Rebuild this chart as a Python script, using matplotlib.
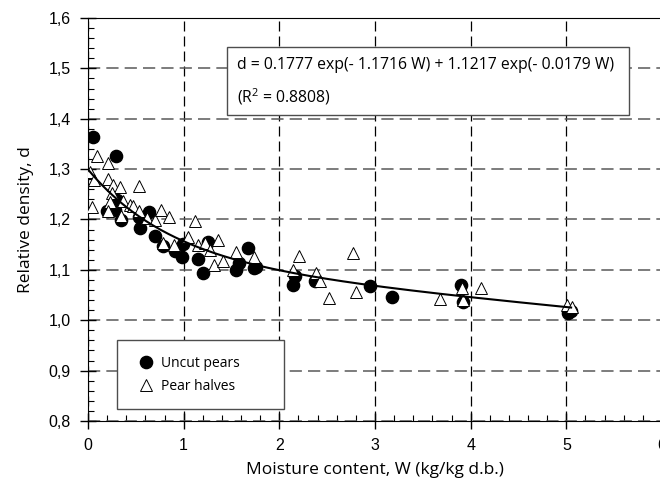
import numpy as np
import matplotlib
matplotlib.use("Agg")
import matplotlib.pyplot as plt
from matplotlib.patches import Rectangle
from matplotlib.ticker import MultipleLocator, FuncFormatter

plt.rcParams['font.family'] = ['Open Sans', 'DejaVu Sans']

# Uncut pears (filled circles)
uncutW = [0.05, 0.29, 0.30, 0.28, 0.195, 0.345, 0.53, 0.64, 0.54, 0.70,
          0.78, 0.91, 0.996, 0.98, 1.146, 1.257, 1.205, 1.55, 1.58, 1.67,
          1.73, 1.755, 2.145, 2.16, 2.37, 2.95, 3.18, 3.90, 3.915, 5.02, 5.05]
uncutD = [1.364, 1.326, 1.239, 1.218, 1.216, 1.199, 1.205, 1.214, 1.183, 1.168,
          1.148, 1.138, 1.152, 1.126, 1.122, 1.156, 1.093, 1.100, 1.113, 1.144,
          1.103, 1.106, 1.070, 1.087, 1.077, 1.067, 1.047, 1.070, 1.037, 1.014, 1.019]

# Pear halves (open triangles)
halvesW = [0.02, 0.09, 0.205, 0.045, 0.063, 0.21, 0.265, 0.33, 0.53, 0.25,
           0.23, 0.37, 0.44, 0.47, 0.53, 0.21, 0.35, 0.62, 0.70, 0.76,
           0.85, 1.12, 1.05, 1.36, 0.78, 0.90, 1.146, 1.22, 1.275, 1.317,
           1.41, 1.55, 1.73, 2.145, 2.21, 2.38, 2.42, 2.52, 2.77, 2.80,
           3.68, 3.905, 3.92, 4.11, 5.01, 5.06]
halvesD = [1.295, 1.326, 1.312, 1.224, 1.279, 1.281, 1.269, 1.264, 1.267, 1.252,
           1.234, 1.236, 1.229, 1.226, 1.216, 1.216, 1.206, 1.203, 1.199, 1.218,
           1.205, 1.198, 1.165, 1.160, 1.154, 1.150, 1.150, 1.153, 1.140, 1.109,
           1.118, 1.135, 1.125, 1.100, 1.128, 1.093, 1.077, 1.044, 1.133, 1.057,
           1.042, 1.064, 1.040, 1.064, 1.031, 1.026]

# fitted model, coefficients as printed on the chart
a1, b1, a2, b2 = 0.1777, 1.1716, 1.1217, 0.0179
r2 = 0.8808

fig = plt.figure(figsize=(6.6, 4.8), dpi=100)
ax = fig.add_axes([88/660, 59/480, 574/660, 403/480])

ax.plot(uncutW, uncutD, 'o', ms=8.8, mfc='black', mec='black', zorder=3, label='Uncut pears')
ax.plot(halvesW, halvesD, '^', ms=8.8, mfc='white', mec='black', mew=0.7, zorder=4, label='Pear halves')

wFit = np.linspace(0.0, 5.05, 200)
dFit = a1*np.exp(-b1*wFit) + a2*np.exp(-b2*wFit)
ax.plot(wFit, dFit, color='black', lw=1.5, zorder=5)

ax.set_xlim(0, 6)
ax.set_ylim(0.8, 1.6)
ax.xaxis.set_major_locator(MultipleLocator(1))
ax.xaxis.set_minor_locator(MultipleLocator(0.2))
ax.yaxis.set_major_locator(MultipleLocator(0.1))
ax.yaxis.set_minor_locator(MultipleLocator(0.02))
ax.yaxis.set_major_formatter(FuncFormatter(lambda v, p: ("%.1f" % v).replace('.', ',')))
ax.tick_params(which='both', top=False, right=False, colors='black')
ax.tick_params(which='major', direction='inout', length=11, width=1, pad=7,
               labelsize=11.5, labelfontfamily='Liberation Sans')
ax.tick_params(which='minor', direction='in', length=4, width=0.8)

ax.xaxis.grid(True, color='black', ls=(0, (8, 4)), lw=0.9)
ax.yaxis.grid(True, color='0.35', ls=(0, (8, 4)), lw=1.1)
ax.set_axisbelow(True)
ax.spines['right'].set_visible(False)

ax.set_xlabel('Moisture content, W (kg/kg d.b.)', fontsize=12.5, labelpad=6)
ax.set_ylabel('Relative density, d', fontsize=12.5, labelpad=10)

# equation box
ax.add_patch(Rectangle((1.45, 1.4075), 4.2, 0.135, fc='white', ec='0.3', lw=1, zorder=6))
ax.text(1.557, 1.5067, 'd = %.4f exp(- %.4f W) + %.4f exp(- %.4f W)' % (a1, b1, a2, b2),
        fontsize=11.3, va='center', ha='left', zorder=7)
ax.text(1.557, 1.443, '($\\mathregular{R^2}$ = %.4f)' % r2,
        fontsize=11.3, va='center', ha='left', zorder=7)

# legend with its own frame
ax.add_patch(Rectangle((0.0505, 0.030), 0.291, 0.171, transform=ax.transAxes,
                       fc='white', ec='0.3', lw=1, zorder=6))
leg = ax.legend(loc='upper left', bbox_to_anchor=(0.0889, 0.161), frameon=False,
                fontsize=10, borderpad=0, borderaxespad=0, handletextpad=0.6,
                labelspacing=0.58, handlelength=1.0)
leg.set_zorder(7)

fig.savefig('out.png', dpi=100)
